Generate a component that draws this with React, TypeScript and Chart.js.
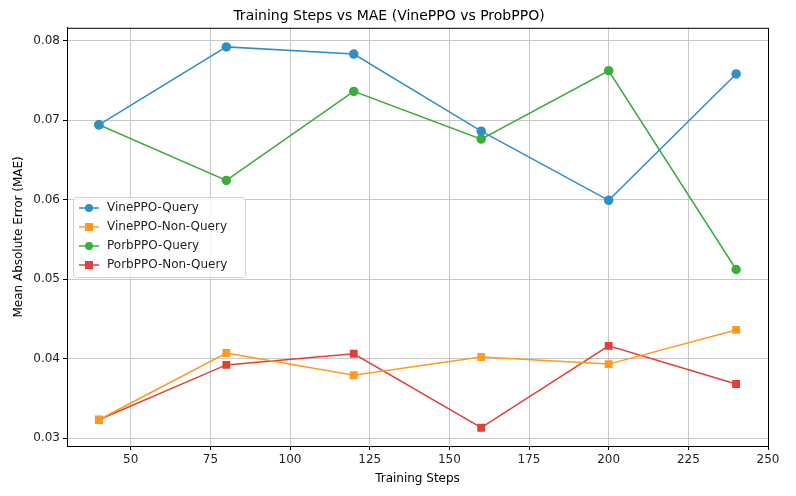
import React, { useEffect, useRef } from 'react';
import { Chart, registerables } from 'chart.js';

Chart.register(...registerables);

const steps = [40, 80, 120, 160, 200, 240];
const vineQuery = [0.0694, 0.0792, 0.0783, 0.0686, 0.0599, 0.0758];
const vineNonQuery = [0.0323, 0.0407, 0.0379, 0.0402, 0.0393, 0.0436];
const porbQuery = [0.0694, 0.0624, 0.0736, 0.0676, 0.0762, 0.0512];
const porbNonQuery = [0.0323, 0.0392, 0.0406, 0.0313, 0.0416, 0.0368];
const xTicks = [50, 75, 100, 125, 150, 175, 200, 225, 250];
const yTicks = [0.03, 0.04, 0.05, 0.06, 0.07, 0.08];

const font = '"DejaVu Sans", sans-serif';

const frameAndLegend = {
  id: 'frameAndLegend',
  afterDraw(chart: any) {
    const { ctx, chartArea: a } = chart;
    ctx.save();
    ctx.strokeStyle = '#000';
    ctx.lineWidth = 1;
    ctx.strokeRect(a.left + 0.5, a.top + 0.5, a.right - a.left, a.bottom - a.top);
    // legend
    const x0 = a.left + 6, y0 = 197, w = 172, rowH = 19;
    const ds = chart.data.datasets;
    ctx.fillStyle = 'rgba(255,255,255,0.8)';
    ctx.strokeStyle = '#d0d0d0';
    ctx.beginPath();
    ctx.roundRect(x0 + 0.5, y0 + 0.5, w, rowH * ds.length + 4, 3);
    ctx.fill();
    ctx.stroke();
    ctx.font = `12px ${font}`;
    ctx.textBaseline = 'middle';
    ds.forEach((d: any, i: number) => {
      const cy = y0 + 11 + i * rowH;
      ctx.strokeStyle = d.borderColor;
      ctx.lineWidth = 1.5;
      ctx.beginPath();
      ctx.moveTo(x0 + 6, cy);
      ctx.lineTo(x0 + 26, cy);
      ctx.stroke();
      ctx.fillStyle = d.borderColor;
      if (d.pointStyle === 'rect') ctx.fillRect(x0 + 12, cy - 4, 8, 8);
      else { ctx.beginPath(); ctx.arc(x0 + 16, cy, 4, 0, Math.PI * 2); ctx.fill(); }
      ctx.fillStyle = '#222';
      ctx.fillText(d.label, x0 + 34, cy);
    });
    ctx.restore();
  },
};

export default function App() {
  const ref = useRef<HTMLCanvasElement>(null);

  useEffect(() => {
    document.body.style.margin = '0';
    if (!ref.current) return;
    const mk = (label: string, data: number[], color: string, pointStyle: string) => ({
      label,
      data: steps.map((s, i) => ({ x: s, y: data[i] })),
      borderColor: color,
      backgroundColor: color,
      borderWidth: 1.5,
      pointStyle,
      pointRadius: pointStyle === 'rect' ? 4.5 : 4,
      tension: 0,
    });
    const chart = new Chart(ref.current, {
      type: 'line',
      data: {
        datasets: [
          mk('VinePPO-Query', vineQuery, '#2f8fc6', 'circle'),
          mk('VinePPO-Non-Query', vineNonQuery, '#ff9a1f', 'rect'),
          mk('PorbPPO-Query', porbQuery, '#3bad3b', 'circle'),
          mk('PorbPPO-Non-Query', porbNonQuery, '#e0403a', 'rect'),
        ],
      },
      plugins: [frameAndLegend],
      options: {
        animation: false,
        responsive: false,
        layout: { padding: { right: 28, top: 0, bottom: 8, left: 10 } },
        plugins: {
          legend: { display: false },
          tooltip: { enabled: false },
          title: {
            display: true,
            text: 'Training Steps vs MAE (VinePPO vs ProbPPO)',
            color: '#000',
            font: { family: font, size: 14, weight: 'normal' },
            padding: { top: 8, bottom: 3 },
          },
        },
        scales: {
          x: {
            type: 'linear',
            min: 30,
            max: 250,
            afterBuildTicks: (s: any) => { s.ticks = xTicks.map((v) => ({ value: v })); },
            afterFit: (s: any) => { s.height = 42; },
            grid: { color: '#c8c8c8', tickColor: '#000', tickLength: 4 },
            border: { color: '#000' },
            ticks: { color: '#222', font: { family: font, size: 12 }, maxRotation: 0 },
            title: { display: true, text: 'Training Steps', color: '#000', font: { family: font, size: 12 }, padding: 2 },
          },
          y: {
            min: 0.029,
            max: 0.0816,
            afterBuildTicks: (s: any) => { s.ticks = yTicks.map((v) => ({ value: v })); },
            afterFit: (s: any) => { s.width = 57; },
            grid: { color: '#c8c8c8', tickColor: '#000', tickLength: 4 },
            border: { color: '#000' },
            ticks: { color: '#222', font: { family: font, size: 12 }, callback: (v: any) => Number(v).toFixed(2) },
            title: { display: true, text: 'Mean Absolute Error (MAE)', color: '#000', font: { family: font, size: 12 }, padding: 2 },
          },
        },
      } as any,
    });
    return () => chart.destroy();
  }, []);

  return (
    <div style={{ width: 796, height: 496, background: '#fff' }}>
      <canvas ref={ref} width={796} height={496} />
    </div>
  );
}
